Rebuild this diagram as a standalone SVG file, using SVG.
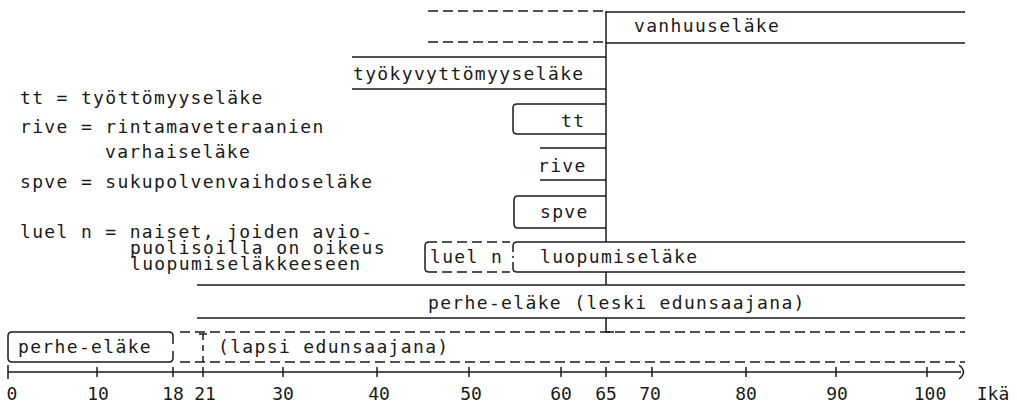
<svg xmlns="http://www.w3.org/2000/svg" width="1017" height="407" viewBox="0 0 1017 407">
<style>
  .ln { fill: none; stroke: #1a1a1a; stroke-width: 1.5; }
  .ds { fill: none; stroke: #1a1a1a; stroke-width: 1.5; stroke-dasharray: 10 5; }
  .dv { fill: none; stroke: #1a1a1a; stroke-width: 1.5; stroke-dasharray: 6 5; }
  .t { font-family: "DejaVu Sans Mono", "Liberation Mono", monospace; font-size: 18px; letter-spacing: 1.35px; fill: #1a1a1a; }
  .ax { font-family: "DejaVu Sans Mono", "Liberation Mono", monospace; font-size: 18px; fill: #1a1a1a; text-anchor: middle; }
</style>
<rect width="1017" height="407" fill="#ffffff"/>

<g id="legend">
  <text class="t" x="20" y="104">tt = työttömyyseläke</text>
  <text class="t" x="20" y="133">rive = rintamaveteraanien</text>
  <text class="t" x="105" y="158">varhaiseläke</text>
  <text class="t" x="20" y="188">spve = sukupolvenvaihdoseläke</text>
  <text class="t" x="20" y="238">luel n = naiset, joiden avio-</text>
  <text class="t" x="130" y="254">puolisoilla on oikeus</text>
  <text class="t" x="130" y="270">luopumiseläkkeeseen</text>
</g>

<g id="vanhuuselake">
  <line class="ds" x1="428" y1="11" x2="604" y2="11"/>
  <line class="ds" x1="428" y1="42" x2="604" y2="42"/>
  <line class="ln" x1="606" y1="12" x2="965" y2="12"/>
  <line class="ln" x1="606" y1="43" x2="965" y2="43"/>
  <text class="t" x="634" y="32">vanhuuseläke</text>
</g>

<g id="tyokyvyttomyyselake">
  <line class="ln" x1="352" y1="57" x2="606" y2="57"/>
  <line class="ln" x1="352" y1="89" x2="606" y2="89"/>
  <text class="t" x="353" y="80">työkyvyttömyyseläke</text>
</g>

<g id="tt">
  <path class="ln" d="M606,104 H517 Q513,104 513,108 V130 Q513,134 517,134 H606"/>
  <text class="t" x="561" y="127">tt</text>
</g>

<g id="rive">
  <line class="ln" x1="540" y1="148" x2="606" y2="148"/>
  <line class="ln" x1="540" y1="180" x2="606" y2="180"/>
  <text class="t" x="538" y="172">rive</text>
</g>

<g id="spve">
  <path class="ln" d="M606,196 H518 Q514,196 514,200 V224 Q514,228 518,228 H606"/>
  <text class="t" x="540" y="218">spve</text>
</g>

<g id="luel-n">
  <path class="ln" d="M437,242 H429 Q425,242 425,246 V268 Q425,272 429,272 H437"/>
  <line class="ds" x1="442" y1="242" x2="510" y2="242"/>
  <line class="ds" x1="442" y1="272" x2="510" y2="272"/>
  <text class="t" x="430" y="263">luel n</text>
</g>

<g id="luopumiselake">
  <path class="ln" d="M513,252 V246 Q513,242 517,242 H965"/>
  <path class="ln" d="M513,262 V268 Q513,272 517,272 H965"/>
  <line class="ln" x1="513" y1="256" x2="513" y2="258"/>
  <text class="t" x="540" y="263">luopumiseläke</text>
</g>

<g id="perhe-elake-leski">
  <line class="ln" x1="197" y1="285" x2="965" y2="285"/>
  <line class="ln" x1="197" y1="318" x2="965" y2="318"/>
  <text class="t" x="428" y="309">perhe-eläke (leski edunsaajana)</text>
</g>

<g id="perhe-elake-lapsi">
  <path class="ln" d="M173,344 V336 Q173,332 169,332 H12 Q8,332 8,336 V358 Q8,362 12,362 H169 Q173,362 173,358 V351"/>
  <line class="ds" x1="180" y1="332" x2="965" y2="332"/>
  <line class="ds" x1="180" y1="362" x2="965" y2="362"/>
  <line class="ln" x1="199" y1="334" x2="207" y2="334"/>
  <line class="dv" x1="203" y1="334" x2="203" y2="362"/>
  <text class="t" x="18" y="353">perhe-eläke</text>
  <text class="t" x="218" y="353">(lapsi edunsaajana)</text>
</g>

<g id="connectors">
  <path class="ln" d="M606,11 V242"/>
  <path class="ln" d="M606,272 V285"/>
  <path class="ln" d="M606,318 V332 H614"/>
</g>

<g id="axis">
  <line class="ln" x1="8" y1="372" x2="961" y2="372"/>
  <path class="ln" d="M959,365 Q968,372 959,379"/>
  <path class="ln" d="M8,365 V379 M97,367 V377 M173,367 V377 M203,367 V377 M283,367 V377 M377,367 V377 M469,367 V377 M561,367 V377 M606,367 V377 M652,367 V377 M746,367 V377 M836,367 V377 M927,367 V377"/>
  <text class="ax" x="12" y="400">0</text>
  <text class="ax" x="98" y="400">10</text>
  <text class="ax" x="173" y="400">18</text>
  <text class="ax" x="205" y="400">21</text>
  <text class="ax" x="283" y="400">30</text>
  <text class="ax" x="379" y="400">40</text>
  <text class="ax" x="471" y="400">50</text>
  <text class="ax" x="561" y="400">60</text>
  <text class="ax" x="606" y="400">65</text>
  <text class="ax" x="650" y="400">70</text>
  <text class="ax" x="746" y="400">80</text>
  <text class="ax" x="837" y="400">90</text>
  <text class="ax" x="930" y="400">100</text>
  <text class="ax" x="993" y="400">Ikä</text>
</g>
</svg>
